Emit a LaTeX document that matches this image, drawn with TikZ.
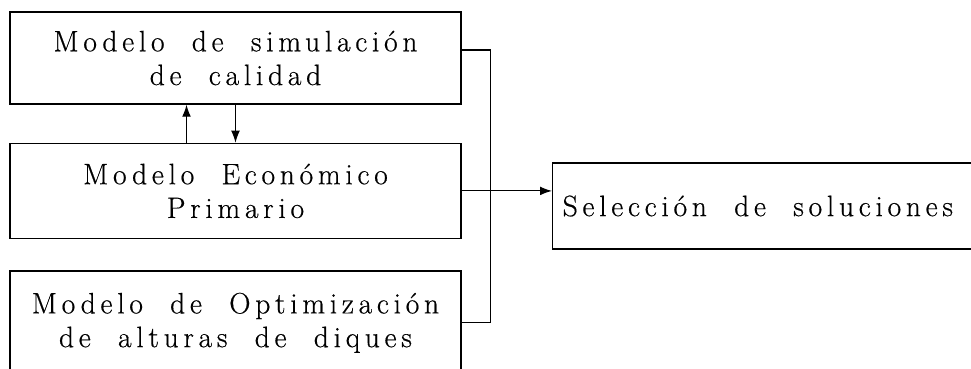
\documentclass[tikz,border=0pt]{standalone}
\usepackage{fontspec}
\newfontfamily\spacedfont{lmroman17-regular.otf}[LetterSpace=16, WordSpace=2, FakeBold=0.5]
\usetikzlibrary{arrows.meta, positioning}

\begin{document}
\begin{tikzpicture}
    \tikzset{
        box/.style = {rectangle, draw, line width=1pt, font=\spacedfont\fontsize{21}{24}\selectfont},
        model/.style = {box, minimum width=11.275cm, align=center},
        line/.style = {draw, line width=0.8pt, -{Latex[length=3mm, width=2.2mm]}},
        wire/.style = {draw, line width=0.8pt},
    }
    \useasboundingbox (0,0) rectangle (24.275,-9.2);

    \node[model, minimum height=2.3cm](sim) at (5.8875,-1.45){Modelo de simulación\\ de calidad};

    \node[model, minimum height=2.375cm](econ)[below = 0.95cm of sim]{Modelo Económico\\ Primario};

    \node[model, minimum height=2.6cm](opt)[below = 0.775cm of econ]{Modelo de Optimización\\ de alturas de diques};

    \node[box, inner xsep=0.25cm, minimum height=2.15cm, anchor=west](sel) at (13.8,-5.15){\makebox[10.5cm][l]{Selección de soluciones}};

    \path [line] ([xshift=-1.225cm]econ.north) -- ([xshift=-1.225cm]sim.south);
    \path [line] (sim.south) -- (econ.north);
    \path [wire] ([yshift=0.2cm]sim.east) -- ++(0.725,0) |- (opt.east);
    \path [line] (econ.east) -- (econ.east -| sel.west);

\end{tikzpicture}
\end{document}
